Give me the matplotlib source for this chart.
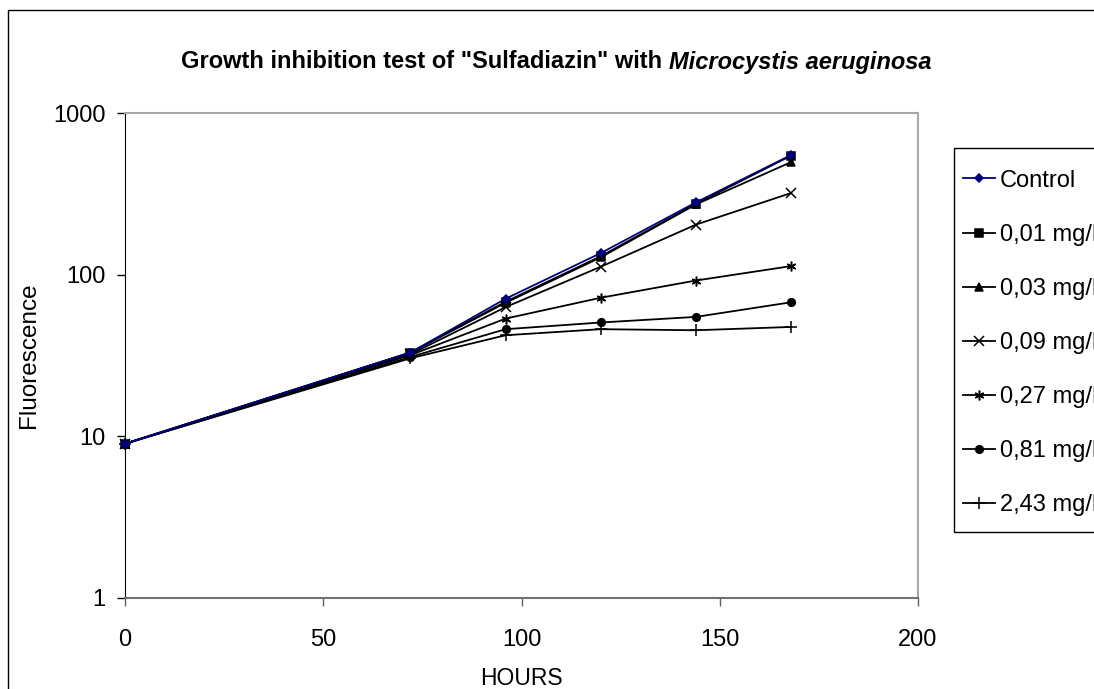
import numpy as np
import matplotlib.pyplot as plt
from matplotlib.patches import Rectangle
from matplotlib.ticker import NullLocator

plt.rcParams['font.family'] = ['Liberation Sans', 'DejaVu Sans']

# sampling times (hours)
hours = [0, 72, 96, 120, 144, 168]

# fluorescence
control = [9, 33, 71, 136, 280, 550]
c001 = [9, 33, 68, 130, 274, 545]
c003 = [9, 33, 67, 128, 272, 497]
c009 = [9, 32.2, 63, 112, 204, 320]
c027 = [9, 31.8, 53.5, 72, 92, 113]
c081 = [9, 31, 46, 50.6, 54.8, 67.5]
c243 = [9, 30.4, 42.2, 46, 45.3, 47.5]

labels = ["Control", "0,01 mg/l", "0,03 mg/l", "0,09 mg/l",
          "0,27 mg/l", "0,81 mg/l", "2,43 mg/l"]
series = [control, c001, c003, c009, c027, c081, c243]
markers = ["D", "s", "^", "x", (6, 2, 0), "o", "+"]
msizes = [4, 5.5, 6, 7, 7, 5.5, 8]
colors = ["#000080"] + ["black"] * 6

fig = plt.figure(figsize=(10.94, 6.89), dpi=100)
W, H = 1094, 689
ax = fig.add_axes([125 / W, 1 - 598 / H, (918 - 125) / W, (598 - 113) / H])

# plot treatments first so the control line ends up on top
for i in list(range(1, 7)) + [0]:
    ax.plot(hours, series[i], color=colors[i], marker=markers[i],
            markersize=msizes[i], markeredgewidth=1.1, lw=1.3,
            label=labels[i], clip_on=False, zorder=3 + (i == 0))

ax.set_yscale('log')
ax.set_ylim(1, 1000)
ax.set_xlim(0, 200)
ax.set_yticks([1, 10, 100, 1000])
ax.set_yticklabels(["1", "10", "100", "1000"])
ax.yaxis.set_minor_locator(NullLocator())
ax.set_xticks([0, 50, 100, 150, 200])

ax.tick_params(axis='both', labelsize=17, length=6, width=1, direction='out')
ax.tick_params(axis='x', colors='#606060', labelcolor='black', pad=16)
ax.tick_params(axis='y', pad=8)

ax.spines['left'].set_color('black')
ax.spines['bottom'].set_color('#707070')
ax.spines['bottom'].set_linewidth(1.5)
for s in ['top', 'right']:
    ax.spines[s].set_color('#a8a8a8')
    ax.spines[s].set_linewidth(1.5)

ax.set_ylabel("Fluorescence", fontsize=17.5)
ax.yaxis.set_label_coords(-0.107, 0.5)
ax.set_xlabel("HOURS", fontsize=16.5)
ax.xaxis.set_label_coords(0.5, -0.142)

# title: bold part + bold italic species name, centred together
renderer = fig.canvas.get_renderer()
t1 = fig.text(0, 1 - 62 / H, 'Growth inhibition test of "Sulfadiazin" with ',
              ha='left', va='center', fontsize=17, fontweight='bold')
t2 = fig.text(0, 1 - 62 / H, 'Microcystis aeruginosa', ha='left', va='center',
              fontsize=17, fontweight='bold', fontstyle='italic')
w1 = t1.get_window_extent(renderer).width
w2 = t2.get_window_extent(renderer).width
x0 = 556 - (w1 + w2) / 2
t1.set_x(x0 / W)
t2.set_x((x0 + w1) / W)

handles, labs = ax.get_legend_handles_labels()
order = [labs.index(l) for l in labels]
leg = fig.legend([handles[k] for k in order], labels, loc='upper left',
                 bbox_to_anchor=(958 / W, 1 - 165 / H), borderaxespad=0,
                 fontsize=17, frameon=False,
                 handlelength=1.35, handletextpad=0.22, labelspacing=1.36,
                 borderpad=0.2)

# legend frame, running past the right edge like the original
fig.patches.append(Rectangle((954 / W, 1 - 532 / H), 1, (532 - 148) / H,
                             fill=False, edgecolor='black', lw=1,
                             transform=fig.transFigure))

# outer chart border
fig.patches.append(Rectangle((8 / W, -0.2), 2, 1 - 10 / H + 0.2, fill=False,
                             edgecolor='black', lw=1, transform=fig.transFigure))

fig.savefig("out.png", dpi=100)
